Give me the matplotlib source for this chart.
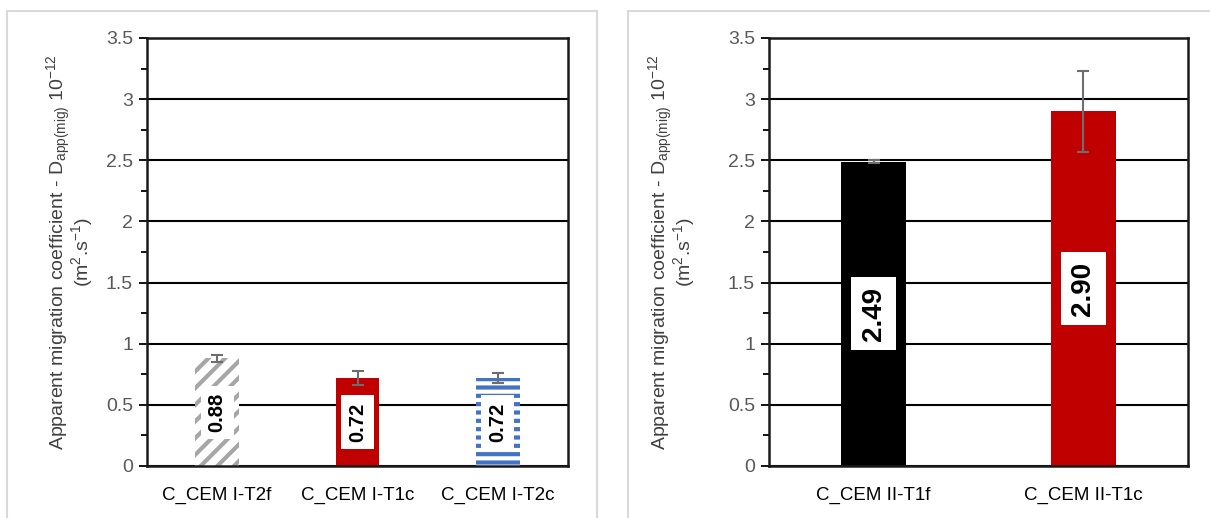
import matplotlib
matplotlib.use("Agg")
import matplotlib.pyplot as plt
import matplotlib.patches as mpatches
import numpy as np

plt.rcParams["font.family"] = ["Liberation Sans Narrow", "Liberation Sans", "DejaVu Sans"]
plt.rcParams["mathtext.fontset"] = "custom"
plt.rcParams["mathtext.rm"] = "Liberation Sans"
plt.rcParams["mathtext.default"] = "regular"
plt.rcParams["hatch.linewidth"] = 3.0

# ── 데이터 ────────────────────────────────────────────────────────────────
left_labels = ["C_CEM I-T2f", "C_CEM I-T1c", "C_CEM I-T2c"]
left_values = [0.88, 0.72, 0.72]
left_errors = [0.03, 0.055, 0.04]

right_labels = ["C_CEM II-T1f", "C_CEM II-T1c"]
right_values = [2.49, 2.90]
right_errors = [0.01, 0.33]

# 스타일 (색, 해치)
left_styles = [
    dict(facecolor="white", edgecolor="#A6A6A6", hatch="//"),
    dict(facecolor="#C00000", edgecolor="#C00000", hatch=None),
    dict(facecolor="white", edgecolor="#4472C4", hatch="--"),
]
right_styles = [
    dict(facecolor="#000000", edgecolor="#000000", hatch=None),
    dict(facecolor="#C00000", edgecolor="#C00000", hatch=None),
]

YLABEL = ("Apparent migration coefficient - D$_{app(mig)}$ 10$^{-12}$\n"
          "(m$^{2}$.s$^{-1}$)")

W, H = 1210, 518
fig = plt.figure(figsize=(W / 100, H / 100), dpi=100)

# 패널 테두리
for x0, x1 in [(7, 597), (628, 1212)]:
    fig.patches.append(mpatches.Rectangle(
        (x0 / W, -0.1), (x1 - x0) / W, (H - 11) / H + 0.1,
        transform=fig.transFigure, facecolor="none",
        edgecolor="#D9D9D9", linewidth=1.5))


def draw_panel(rect, labels, values, errors, styles, label_fs, ylabelpad):
    ax = fig.add_axes(rect)
    x = np.arange(len(labels))
    ax.set_xlim(-0.5, len(labels) - 0.5)
    ax.set_ylim(0, 3.5)
    ax.set_yticks(np.arange(0, 3.51, 0.5))
    ax.set_yticks(np.arange(0.25, 3.5, 0.5), minor=True)
    ax.set_yticklabels(["0", "0.5", "1", "1.5", "2", "2.5", "3", "3.5"])
    ax.yaxis.grid(True, which="major", color="black", linewidth=1.5)
    ax.set_axisbelow(True)
    ax.tick_params(axis="y", which="major", length=6, width=1.3, pad=4,
                   labelsize=14, labelcolor="#595959", color="black")
    ax.tick_params(axis="y", which="minor", length=4, width=1.3, color="black")
    ax.tick_params(axis="x", length=0, labelsize=13.5, pad=15)
    ax.set_xticks(x)
    ax.set_xticklabels(labels)
    for sp in ax.spines.values():
        sp.set_linewidth(1.8)
        sp.set_color("#1a1a1a")

    for xi, v, e, st in zip(x, values, errors, styles):
        ax.bar(xi, v, 0.31, facecolor=st["facecolor"], edgecolor=st["edgecolor"],
               hatch=st["hatch"], linewidth=0, zorder=2)
        ax.errorbar(xi, v, yerr=e, fmt="none", ecolor="#6E6E6E",
                    elinewidth=1.5, capsize=4, capthick=1.5, zorder=4)
        ax.text(xi, v / 2, f"{v:.2f}", rotation=90, ha="center", va="center",
                fontsize=label_fs, fontweight="bold", family="Liberation Sans",
                color="black", zorder=5,
                bbox=dict(boxstyle="square,pad=0.35", facecolor="white",
                          edgecolor="none"))

    ax.set_ylabel(YLABEL, fontsize=14, color="#404040", labelpad=ylabelpad,
                  linespacing=0.8)
    return ax


draw_panel([147 / W, 1 - 466 / H, (568 - 147) / W, (466 - 38) / H],
           left_labels, left_values, left_errors, left_styles, 14.5, 8)
draw_panel([769 / W, 1 - 466 / H, (1188 - 769) / W, (466 - 38) / H],
           right_labels, right_values, right_errors, right_styles, 20, 22)

fig.savefig("out.png", dpi=100, facecolor="white")
